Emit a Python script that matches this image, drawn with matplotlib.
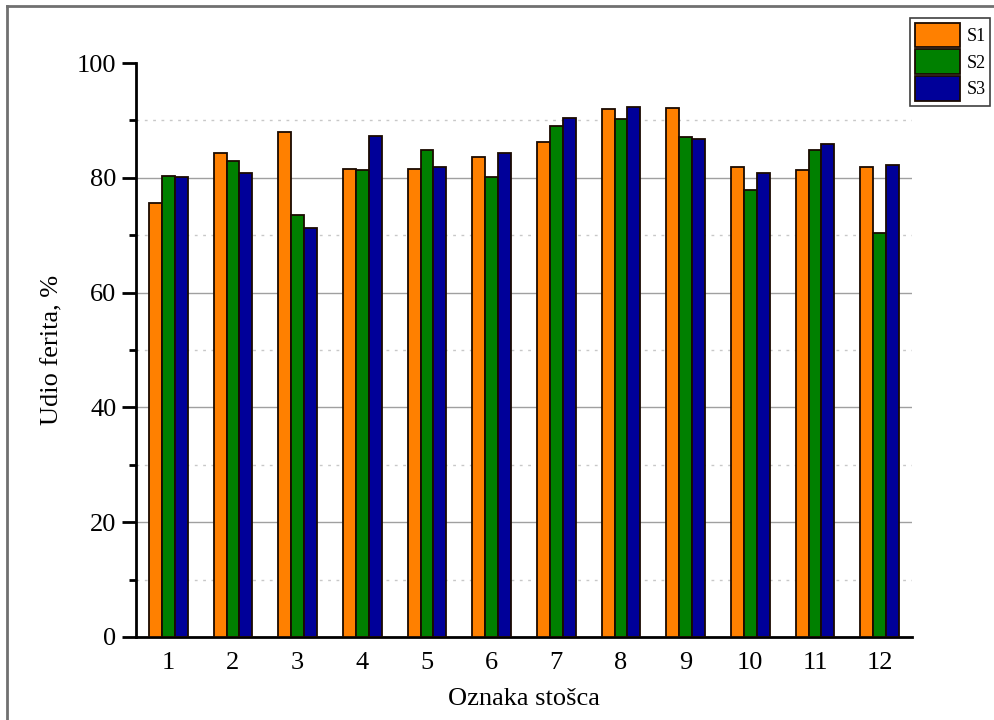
import numpy as np
import matplotlib.pyplot as plt
from matplotlib.lines import Line2D
from matplotlib.ticker import MultipleLocator

plt.rcParams['font.family'] = ['Liberation Serif', 'DejaVu Serif']

# cone labels and ferrite share per sample
cones = [str(i) for i in range(1, 13)]
s1 = [75.6, 84.3, 87.9, 81.5, 81.5, 83.6, 86.2, 91.9, 92.2, 81.8, 81.3, 81.8]
s2 = [80.3, 83.0, 73.6, 81.4, 84.8, 80.1, 89.0, 90.2, 87.1, 77.8, 84.8, 70.4]
s3 = [80.1, 80.9, 71.2, 87.2, 81.9, 84.4, 90.5, 92.3, 86.8, 80.8, 85.9, 82.3]
series_names = ['S1', 'S2', 'S3']
colors = ['#ff8000', '#008000', '#000099']
major_grid = [20, 40, 60, 80]
minor_grid = [10, 30, 50, 70, 90]

fig = plt.figure(figsize=(9.94, 7.2), dpi=100)
ax = fig.add_axes([0.1368, 0.1153, 0.7807, 0.7972])

x = np.arange(1, len(cones) + 1)
width = 0.2
for i, (vals, name, c) in enumerate(zip([s1, s2, s3], series_names, colors)):
    ax.bar(x + (i - 1) * width, vals, width, color=c, edgecolor='#1a0a00',
           linewidth=1.3, label=name, zorder=3)

ax.set_xlim(0.5, 12.5)
ax.set_ylim(0, 100)
ax.set_xticks(x)
ax.set_xticklabels(cones)
ax.yaxis.set_major_locator(MultipleLocator(20))
ax.yaxis.set_minor_locator(MultipleLocator(10))

# grid: solid at major, dotted at minor (none at 0 and 100)
for g in major_grid:
    ax.axhline(g, color='#a0a0a0', linewidth=1.0, zorder=0)
for g in minor_grid:
    ax.axhline(g, color='#c8c8c8', linewidth=1.0, linestyle=(0, (2, 4)), zorder=0)

for side in ['top', 'right']:
    ax.spines[side].set_visible(False)
ax.spines['left'].set_linewidth(2)
ax.spines['bottom'].set_linewidth(2)
ax.tick_params(axis='y', which='major', length=10, width=2, labelsize=19, pad=4)
ax.tick_params(axis='y', which='minor', length=5, width=2)
ax.tick_params(axis='x', length=0, labelsize=19, pad=11)

ax.set_xlabel('Oznaka stošca', fontsize=19, labelpad=10)
ax.set_ylabel('Udio ferita, %', fontsize=19, labelpad=10)

leg = ax.legend(loc='upper right', bbox_to_anchor=(0.996, 0.975),
                bbox_transform=fig.transFigure, fontsize=13, handlelength=2.5,
                handleheight=1.75, labelspacing=0.1, handletextpad=0.35,
                borderpad=0.25, borderaxespad=0, fancybox=False, framealpha=1,
                edgecolor='#404040')
leg.get_frame().set_linewidth(1.2)

# outer frame of the figure
fig.add_artist(Line2D([0.007, 0.007], [0.0, 0.992], transform=fig.transFigure,
                      color='#707070', linewidth=2))
fig.add_artist(Line2D([0.007, 1.0], [0.992, 0.992], transform=fig.transFigure,
                      color='#707070', linewidth=2))

fig.savefig('out.png', dpi=100)
